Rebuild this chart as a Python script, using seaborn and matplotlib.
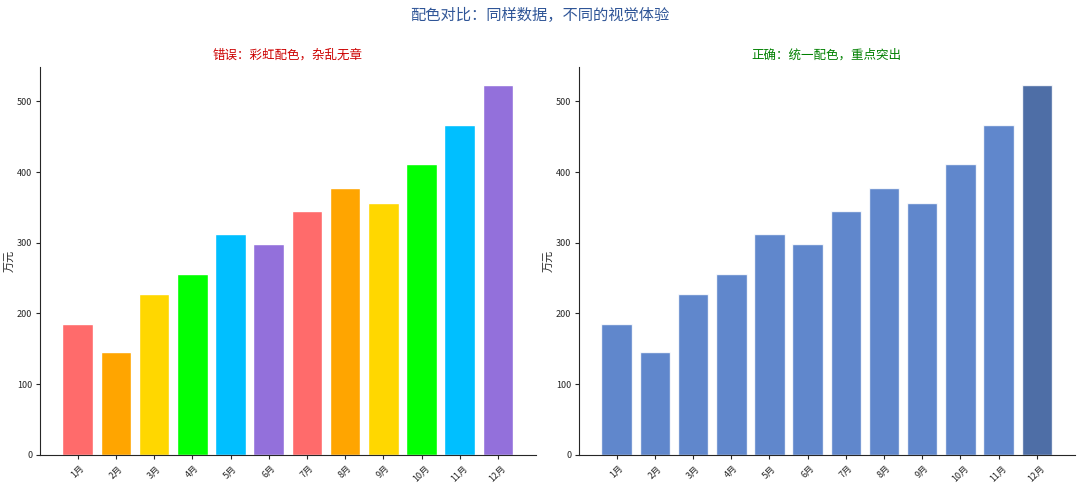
import numpy as np
import pandas as pd
import seaborn as sns
import matplotlib
matplotlib.use("Agg")
import matplotlib.pyplot as plt

months = ["1月", "2月", "3月", "4月", "5月", "6月", "7月", "8月", "9月", "10月", "11月", "12月"]
sales = [185, 145, 228, 256, 312, 298, 345, 378, 356, 412, 467, 523]
rainbow = ["#FF6B6B", "#FFA500", "#FFD700", "#00FF00", "#00BFFF", "#9370DB"] * 2
blue_main = "#4472C4"
blue_hi = "#2F5597"

sns.set_style("ticks")
plt.rcParams['font.family'] = ['Noto Sans CJK SC', 'DejaVu Sans']
plt.rcParams['axes.unicode_minus'] = False

df = pd.DataFrame({"month": months, "sales": sales})

fig, axes = plt.subplots(1, 2, figsize=(10.8, 4.88), dpi=100)
fig.subplots_adjust(left=0.037, right=0.995, bottom=0.068, top=0.863, wspace=0.087)

# 左：彩虹配色
ax = axes[0]
sns.barplot(data=df, x="month", y="sales", hue="month", palette=rainbow, saturation=1,
            legend=False, width=0.8, edgecolor="white", linewidth=1, alpha=1, ax=ax)
ax.set_title("错误：彩虹配色，杂乱无章", color="#CC0000", fontsize=9, pad=6)

# 右：统一配色，突出最后一个月
ax = axes[1]
blues = [blue_main] * (len(months) - 1) + [blue_hi]
sns.barplot(data=df, x="month", y="sales", hue="month", palette=blues, saturation=1,
            legend=False, width=0.8, edgecolor="white", linewidth=1, alpha=0.85, ax=ax)
ax.set_title("正确：统一配色，重点突出", color="#008000", fontsize=9, pad=6)

for ax in axes:
    ax.set_xlim(-0.99, 11.99)
    ax.set_ylim(0, 549)
    ax.set_xlabel("")
    ax.set_ylabel("万元", fontsize=8, labelpad=1)
    ax.tick_params(axis="x", rotation=45, labelsize=6.5, length=3)
    ax.tick_params(axis="y", labelsize=6.5, length=3, pad=2.5)
    sns.despine(ax=ax)

fig.suptitle("配色对比：同样数据，不同的视觉体验", fontsize=11, color="#2F5597", y=0.985)

fig.savefig("out.png", dpi=100)
